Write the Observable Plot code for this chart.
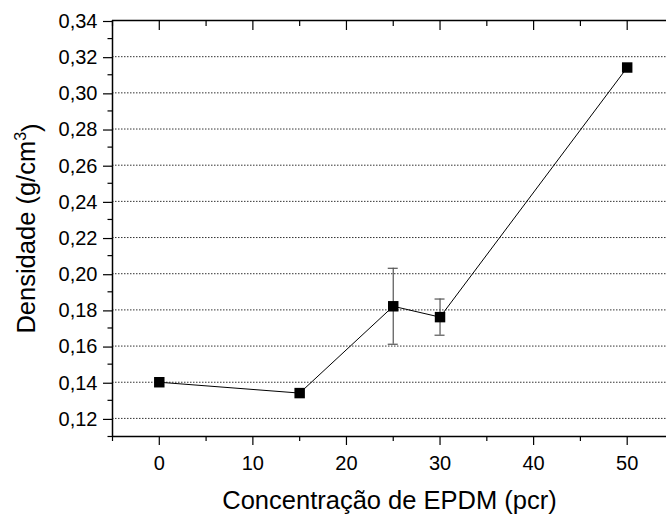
<!DOCTYPE html>
<html><head><meta charset="utf-8">
<script src="https://cdn.jsdelivr.net/npm/d3@7"></script>
<script src="https://cdn.jsdelivr.net/npm/@observablehq/plot@0.6"></script>
<style>
body{margin:0;background:#fff}
</style>
</head><body><div id="chart"></div>
<script>
// Data
const concentration = [0, 15, 25, 30, 50];
const density = [0.140, 0.134, 0.182, 0.176, 0.314];
const errLow = [null, null, 0.161, 0.166, null];
const errHigh = [null, null, 0.203, 0.186, null];

const xMajorTicks = [0, 10, 20, 30, 40, 50];
const xMinorTicks = [-5, 5, 15, 25, 35, 45];
const yMajorTicks = [0.12, 0.14, 0.16, 0.18, 0.20, 0.22, 0.24, 0.26, 0.28, 0.30, 0.32, 0.34];
const yMinorTicks = [0.11, 0.13, 0.15, 0.17, 0.19, 0.21, 0.23, 0.25, 0.27, 0.29, 0.31, 0.33];
const yGridLines = [0.12, 0.14, 0.16, 0.18, 0.20, 0.22, 0.24, 0.26, 0.28, 0.30, 0.32];
const xDomain = [-5, 54.2];
const yDomain = [0.11, 0.34];
const xTitle = "Concentração de EPDM (pcr)";
const yTitle = "Densidade (g/cm";

const rows = concentration.map((x, i) => ({x, y: density[i], lo: errLow[i], hi: errHigh[i]}));
const errRows = rows.filter(d => d.lo != null);
const fmt = d => d.toFixed(2).replace(".", ",");
const none = () => "";

const chart = Plot.plot({
  width: 666, height: 515,
  marginLeft: 112, marginRight: 0, marginTop: 20, marginBottom: 79,
  style: {fontFamily: "'Liberation Sans', Arial, sans-serif", fontSize: "20px", color: "#000", background: "#fff"},
  x: {domain: xDomain, axis: null},
  y: {domain: yDomain, axis: null},
  marks: [
    Plot.ruleY(yGridLines, {stroke: "#333", strokeDasharray: "1.5,1.5", strokeWidth: 1}),
    Plot.axisY(yMajorTicks, {tickSize: 9, tickPadding: 6, tickFormat: fmt, label: null, strokeWidth: 1.2, fontSize: 20, dy: 1}),
    Plot.axisY(yMinorTicks, {tickSize: 4.5, tickFormat: none, label: null, strokeWidth: 1.2}),
    Plot.axisX(xMajorTicks, {tickSize: 9, tickPadding: 10, tickFormat: d => String(d), label: null, strokeWidth: 1.2, fontSize: 20}),
    Plot.axisX(xMinorTicks, {tickSize: 5, tickFormat: none, label: null, strokeWidth: 1.2}),
    Plot.axisX(xMajorTicks, {anchor: "top", tickSize: 9, dy: 9, tickFormat: none, label: null, strokeWidth: 1.2}),
    Plot.axisX(xMinorTicks, {anchor: "top", tickSize: 5, dy: 5, tickFormat: none, label: null, strokeWidth: 1.2}),
    Plot.ruleX([xDomain[0]], {stroke: "#000", strokeWidth: 1.5}),
    Plot.ruleY(yDomain, {stroke: "#000", strokeWidth: 1.5}),
    Plot.ruleX(errRows, {x: "x", y1: "lo", y2: "hi", stroke: "#555", strokeWidth: 1.2}),
    Plot.ruleY(errRows, {x1: "x", x2: "x", y: "lo", insetLeft: -5, insetRight: -5, stroke: "#555", strokeWidth: 1.2}),
    Plot.ruleY(errRows, {x1: "x", x2: "x", y: "hi", insetLeft: -5, insetRight: -5, stroke: "#555", strokeWidth: 1.2}),
    Plot.line(rows, {x: "x", y: "y", stroke: "#000", strokeWidth: 1}),
    Plot.dot(rows, {x: "x", y: "y", symbol: "square", r: 5.9, fill: "#000", stroke: null}),
    Plot.text([xTitle], {frameAnchor: "bottom", textAnchor: "middle", lineAnchor: "middle", dy: 64.8, fontSize: 25.5, fill: "#000"}),
    Plot.text([yTitle], {frameAnchor: "left", textAnchor: "middle", lineAnchor: "middle", rotate: -90, dx: -86, fontSize: 25.5, fill: "#000"})
  ]
});
document.getElementById("chart").appendChild(chart);

// superscript "3" in the y title
const yt = d3.select(chart).selectAll("text").filter(function() { return this.textContent === yTitle; });
yt.each(function() {
  const t = d3.select(this);
  t.text(null);
  t.append("tspan").text(yTitle);
  t.append("tspan").attr("dy", "-0.55em").attr("font-size", "16px").text("3");
  t.append("tspan").attr("dy", "0.55em").text(")");
});
</script>
</body></html>
